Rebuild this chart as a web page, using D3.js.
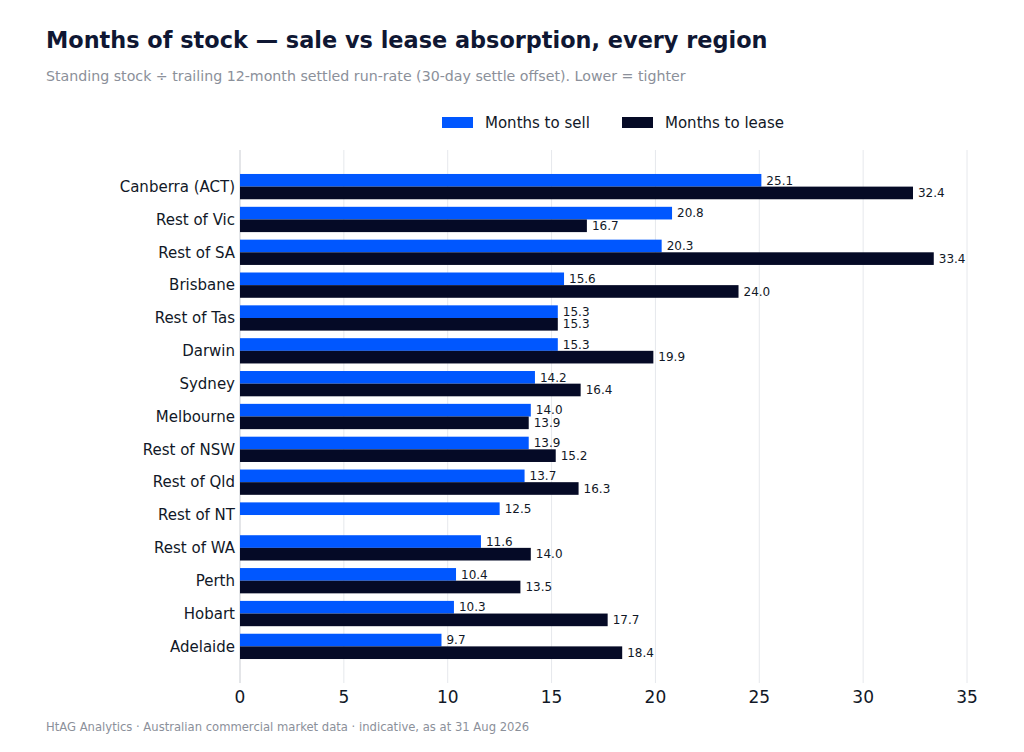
<!DOCTYPE html>
<html lang="en">
<head>
<meta charset="utf-8">
<title>Months of stock</title>
<script src="https://d3js.org/d3.v7.min.js"></script>
<style>
  body { margin: 0; background: #fff; }
  svg { font-family: "DejaVu Sans", sans-serif; display: block; }
</style>
</head>
<body>
<script>
// regions, top to bottom
var regions = ["Canberra (ACT)", "Rest of Vic", "Rest of SA", "Brisbane", "Rest of Tas",
  "Darwin", "Sydney", "Melbourne", "Rest of NSW", "Rest of Qld", "Rest of NT",
  "Rest of WA", "Perth", "Hobart", "Adelaide"];
var monthsToSell = [25.1, 20.8, 20.3, 15.6, 15.3, 15.3, 14.2, 14.0, 13.9, 13.7, 12.5, 11.6, 10.4, 10.3, 9.7];
var monthsToLease = [32.4, 16.7, 33.4, 24.0, 15.3, 19.9, 16.4, 13.9, 15.2, 16.3, null, 14.0, 13.5, 17.7, 18.4];
var seriesNames = ["Months to sell", "Months to lease"];
var xTicks = [0, 5, 10, 15, 20, 25, 30, 35];

var w = 1024, h = 752;
var colors = ["#0057ff", "#050a26"];

var svg = d3.select("body").append("svg")
  .attr("width", w)
  .attr("height", h);

// title + subtitle
svg.append("text")
  .attr("x", 46).attr("y", 48)
  .style("font-size", "22.4px").style("font-weight", "bold")
  .style("fill", "#0f1733")
  .text("Months of stock \u2014 sale vs lease absorption, every region");

svg.append("text")
  .attr("x", 46).attr("y", 81)
  .style("font-size", "14.2px")
  .style("fill", "#8b909a")
  .text("Standing stock \u00f7 trailing 12-month settled run-rate (30-day settle offset). Lower = tighter");

// plot area
var plotLeft = 240, plotRight = 967, plotTop = 150, plotBottom = 683;

var x = d3.scaleLinear().domain([0, 35]).range([plotLeft, plotRight]);
var y = d3.scaleBand().domain(regions).range([plotTop, plotBottom])
  .paddingInner(0.23).paddingOuter(0.73);
var sub = d3.scaleBand().domain([0, 1]).range([0, y.bandwidth()]);

// gridlines
svg.append("g")
  .selectAll("line")
  .data(xTicks)
  .enter()
  .append("line")
  .attr("x1", function(d) { return x(d); })
  .attr("x2", function(d) { return x(d); })
  .attr("y1", plotTop).attr("y2", plotBottom)
  .style("stroke", function(d) { return d === 0 ? "#c9ccd2" : "#e6e8ec"; })
  .style("stroke-width", 1);

// bars
var rows = regions.map(function(r, i) {
  return { region: r, values: [monthsToSell[i], monthsToLease[i]] };
});

var groups = svg.append("g")
  .selectAll("g")
  .data(rows)
  .enter()
  .append("g")
  .attr("transform", function(d) { return "translate(0," + y(d.region) + ")"; });

var cells = groups.selectAll("g")
  .data(function(d) {
    return d.values.map(function(v, k) { return { k: k, v: v }; })
      .filter(function(e) { return e.v != null; });
  })
  .enter()
  .append("g");

cells.append("rect")
  .attr("x", x(0))
  .attr("y", function(d) { return sub(d.k); })
  .attr("width", function(d) { return x(d.v) - x(0); })
  .attr("height", sub.bandwidth())
  .style("fill", function(d) { return colors[d.k]; });

cells.append("text")
  .attr("x", function(d) { return x(d.v) + 5; })
  .attr("y", function(d) { return sub(d.k) + sub.bandwidth() / 2; })
  .attr("dy", "0.35em")
  .style("font-size", "12px")
  .style("fill", "#111827")
  .text(function(d) { return d.v.toFixed(1); });

// y labels
svg.append("g")
  .selectAll("text")
  .data(regions)
  .enter()
  .append("text")
  .attr("x", plotLeft - 5)
  .attr("y", function(d) { return y(d) + y.bandwidth() / 2; })
  .attr("dy", "0.35em")
  .attr("text-anchor", "end")
  .style("font-size", "15px")
  .style("fill", "#111827")
  .text(function(d) { return d; });

// x tick labels
svg.append("g")
  .selectAll("text")
  .data(xTicks)
  .enter()
  .append("text")
  .attr("x", function(d) { return x(d); })
  .attr("y", 703)
  .attr("text-anchor", "middle")
  .style("font-size", "17px")
  .style("fill", "#111827")
  .text(function(d) { return d; });

// legend
var legX = [442, 622];
var legend = svg.append("g")
  .selectAll("g")
  .data(seriesNames)
  .enter()
  .append("g")
  .attr("transform", function(d, i) { return "translate(" + legX[i] + ",117)"; });

legend.append("rect")
  .attr("width", 31).attr("height", 11)
  .style("fill", function(d, i) { return colors[i]; });

legend.append("text")
  .attr("x", 43).attr("y", 6)
  .attr("dy", "0.35em")
  .style("font-size", "15px")
  .style("fill", "#111827")
  .text(function(d) { return d; });

// footer
svg.append("text")
  .attr("x", 46).attr("y", 731)
  .style("font-size", "11.6px")
  .style("fill", "#8b909a")
  .text("HtAG Analytics \u00b7 Australian commercial market data \u00b7 indicative, as at 31 Aug 2026");
</script>
</body>
</html>
